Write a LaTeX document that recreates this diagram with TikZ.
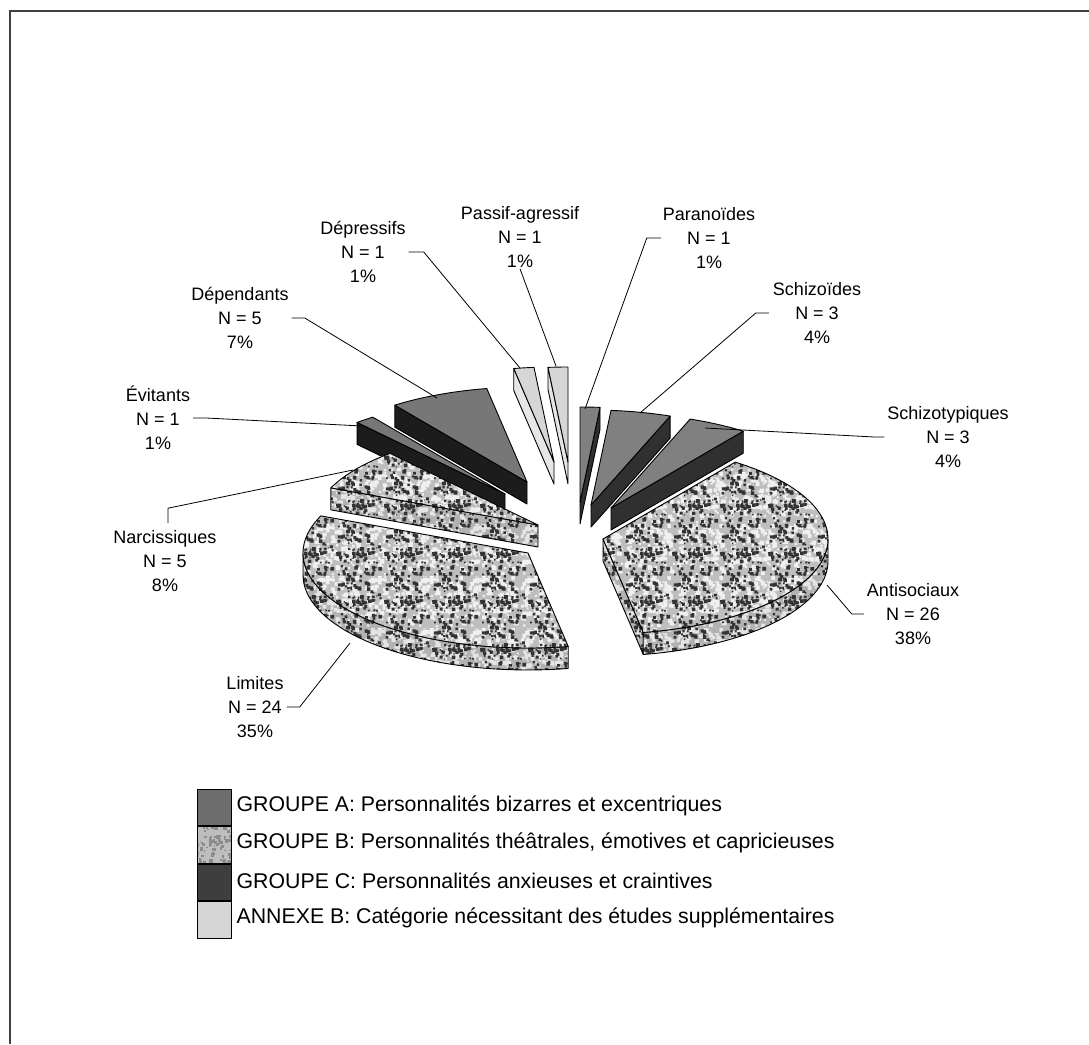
\documentclass[tikz,border=0pt]{standalone}
\usepackage{fontspec}
\setmainfont{Liberation Sans}
\usetikzlibrary{patterns,positioning}

\definecolor{grpAtop}{HTML}{808080}
\definecolor{grpAside}{HTML}{303030}
\definecolor{grpBtop}{HTML}{BEBEBE}
\definecolor{grpBside}{HTML}{B2B2B2}
\definecolor{grpCtop}{HTML}{777777}
\definecolor{grpCside}{HTML}{1C1C1C}
\definecolor{annexTop}{HTML}{D6D6D6}
\definecolor{annexSide}{HTML}{E6E6E6}

% speckled texture of groupe B (dark and light specks)
\pgfdeclarepatternformonly{speckle}{\pgfqpoint{0pt}{0pt}}{\pgfqpoint{48pt}{48pt}}{\pgfqpoint{48pt}{48pt}}{%
  \pgfmathsetseed{11}%
  \foreach \k in {1,...,110}{%
    \pgfmathsetmacro{\sps}{1.2+2.6*rnd}%
    \pgfmathsetmacro{\spx}{(48-\sps)*rnd}%
    \pgfmathsetmacro{\spy}{(48-\sps)*rnd}%
    \pgfpathrectangle{\pgfpoint{\spx pt}{\spy pt}}{\pgfpoint{\sps pt}{\sps pt}}%
    \pgfusepath{fill}%
  }%
}
\pgfdeclarepatternformonly{specklelight}{\pgfqpoint{0pt}{0pt}}{\pgfqpoint{52pt}{52pt}}{\pgfqpoint{52pt}{52pt}}{%
  \pgfmathsetseed{29}%
  \foreach \k in {1,...,140}{%
    \pgfmathsetmacro{\sps}{1.5+3*rnd}%
    \pgfmathsetmacro{\spx}{(52-\sps)*rnd}%
    \pgfmathsetmacro{\spy}{(52-\sps)*rnd}%
    \pgfpathrectangle{\pgfpoint{\spx pt}{\spy pt}}{\pgfpoint{\sps pt}{\sps pt}}%
    \pgfusepath{fill}%
  }%
}

\def\pieRx{225}
\def\pieRy{95}
\def\pieH{22}

% one exploded slab: apex x, apex y, start angle, end angle, top style, side style
\newcommand{\slab}[6]{%
  \pgfmathtruncatemacro{\faceS}{sin(#3)<-0.01}%
  \pgfmathtruncatemacro{\faceE}{sin(#4)>0.01}%
  \pgfmathsetmacro{\rimLo}{max(#3,90)}%
  \pgfmathsetmacro{\rimHi}{min(#4,270)}%
  \pgfmathtruncatemacro{\rimOn}{\rimHi>\rimLo}%
  \ifnum\faceS=1
    \path[#6] (#1,#2) -- ({#1+\pieRx*sin(#3)},{#2-\pieRy*cos(#3)}) -- ++(0,\pieH) -- (#1,{#2+\pieH}) -- cycle;
  \fi
  \ifnum\faceE=1
    \path[#6] (#1,#2) -- ({#1+\pieRx*sin(#4)},{#2-\pieRy*cos(#4)}) -- ++(0,\pieH) -- (#1,{#2+\pieH}) -- cycle;
  \fi
  \ifnum\rimOn=1
    \path[#6] plot[domain=\rimLo:\rimHi,samples=40] ({#1+\pieRx*sin(\x)},{#2-\pieRy*cos(\x)})
      -- plot[domain=\rimHi:\rimLo,samples=40] ({#1+\pieRx*sin(\x)},{#2+\pieH-\pieRy*cos(\x)}) -- cycle;
  \fi
  \path[#5] (#1,#2) -- plot[domain=#3:#4,samples=60] ({#1+\pieRx*sin(\x)},{#2-\pieRy*cos(\x)}) -- cycle;
}

\tikzset{
  edge/.style={draw=black, line width=0.9pt, line join=round},
  topA/.style={edge, fill=grpAtop},
  sideA/.style={edge, fill=grpAside},
  topB/.style={edge, preaction={fill=grpBtop}, preaction={pattern=specklelight, pattern color=white!94!black}, pattern=speckle, pattern color=black!80},
  sideB/.style={edge, preaction={fill=grpBside}, preaction={pattern=specklelight, pattern color=white!90!black}, pattern=speckle, pattern color=black!80},
  topC/.style={edge, fill=grpCtop},
  sideC/.style={edge, fill=grpCside},
  topD/.style={edge, fill=annexTop},
  sideD/.style={edge, fill=annexSide},
  lbl/.style={align=center, font=\fontsize{18}{24}\selectfont, inner sep=1pt},
  leader/.style={draw=black, line width=0.8pt},
  swatch/.style={draw=black, line width=0.9pt, minimum width=34pt, minimum height=36.5pt, inner sep=0pt},
  legtext/.style={anchor=west, font=\fontsize{21.3}{24}\selectfont, inner sep=0pt},
  frame/.style={draw=black!75, line width=1.2pt}
}

\begin{document}
\begin{tikzpicture}[x=1pt, y=-1pt]
\useasboundingbox (0,0) rectangle (1089,1044);

% frame
\coordinate (frBL) at (10,1044);
\coordinate (frTL) at (10,11);
\coordinate (frTR) at (1089,11);
\draw[frame] (frBL) -- (frTL) -- (frTR);

% slices, back to front
\slab{568}{462}{354.9}{360}{topD}{sideD}   % Passif-agressif
\slab{554}{462}{349.7}{354.9}{topD}{sideD} % Depressifs
\slab{580}{502}{0}{5.1}{topA}{sideA}       % Paranoides
\slab{527}{482}{324}{349.7}{topC}{sideC}   % Dependants
\slab{591}{505}{5.1}{20.6}{topA}{sideA}    % Schizoides
\slab{505}{494}{318.9}{324}{topC}{sideC}   % Evitants
\slab{611}{508}{20.6}{36}{topA}{sideA}     % Schizotypiques
\slab{538}{525}{293}{318.9}{topB}{sideB}   % Narcissiques
\slab{603}{539}{36}{169.7}{topB}{sideB}    % Antisociaux
\slab{528}{553}{169.7}{293}{topB}{sideB}   % Limites

% labels
\node[lbl] (lblPassif) at (520,237) {Passif-agressif\\N = 1\\1\%};
\node[lbl] (lblPara) at (709,238) {Paranoïdes\\N = 1\\1\%};
\node[lbl] (lblDepr) at (363,252) {Dépressifs\\N = 1\\1\%};
\node[lbl] (lblDepen) at (240,318) {Dépendants\\N = 5\\7\%};
\node[lbl] (lblEvit) at (158,418) {Évitants\\N = 1\\1\%};
\node[lbl] (lblSchd) at (817,313) {Schizoïdes\\N = 3\\4\%};
\node[lbl] (lblSchtyp) at (948,437) {Schizotypiques\\N = 3\\4\%};
\node[lbl] (lblNarc) at (165,561) {Narcissiques\\N = 5\\8\%};
\node[lbl] (lblAnti) at (913,614) {Antisociaux\\N = 26\\38\%};
\node[lbl] (lblLim) at (255,707) {Limites\\N = 24\\35\%};

% leader ends on the slices
\coordinate (tipPassif) at (556,366);
\coordinate (tipPara) at (585,409);
\coordinate (tipDepr) at (520,368);
\coordinate (tipDepen) at (437,398);
\coordinate (tipEvit) at (362,426);
\coordinate (tipSchd) at (640,413);
\coordinate (tipSchtyp) at (705,428);
\coordinate (tipNarc) at (353,470);
\coordinate (tipAnti) at (827,585);
\coordinate (tipLim) at (350,643);

\draw[leader] (lblPassif.south) -- (tipPassif);
\draw[leader] (lblPara.west) ++(-1,0) -- ++(-14,0) -- (tipPara);
\draw[leader] (lblDepr.east) ++(2,0) -- ++(15,0) -- (tipDepr);
\draw[leader] (lblDepen.east) ++(2,0) -- ++(13,0) -- (tipDepen);
\draw[leader] (lblEvit.east) ++(2,0) -- ++(13,0) -- (tipEvit);
\draw[leader] (lblSchd.west) ++(-3,0) -- ++(-13,0) -- (tipSchd);
\draw[leader] (lblSchtyp.west) ++(-2,0) -- ++(-10,0) -- (tipSchtyp);
\draw[leader] (lblNarc.north) ++(3,-6) -- ++(0,-15) -- (tipNarc);
\draw[leader] (lblAnti.west) ++(-2,0) -- ++(-12,0) -- (tipAnti);
\draw[leader] (lblLim.east) ++(2,0) -- ++(13,0) -- (tipLim);

% legend
\node[swatch, fill=grpAtop!85!black] (swA) at (214,807.5) {};
\node[swatch, preaction={fill=grpBtop}, pattern=speckle, pattern color=black!45, below=0pt of swA] (swB) {};
\node[swatch, fill=grpCside!85!white, below=0pt of swB] (swC) {};
\node[swatch, fill=annexTop, below=0pt of swC] (swD) {};
\node[legtext] (legA) at ([xshift=5pt,yshift=2pt]swA.east) {GROUPE A: Personnalités bizarres et excentriques};
\node[legtext] (legB) at ([xshift=5pt,yshift=2pt]swB.east) {GROUPE B: Personnalités théâtrales, émotives et capricieuses};
\node[legtext] (legC) at ([xshift=5pt,yshift=2pt]swC.east) {GROUPE C: Personnalités anxieuses et craintives};
\node[legtext] (legD) at ([xshift=5pt,yshift=2pt]swD.east) {ANNEXE B: Catégorie nécessitant des études supplémentaires};
\end{tikzpicture}
\end{document}
